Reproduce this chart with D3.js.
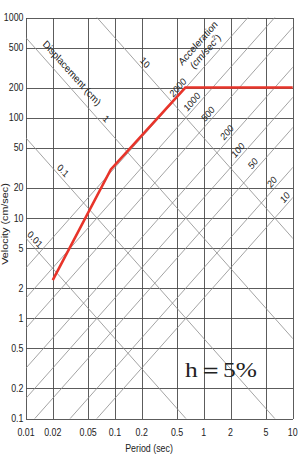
<!DOCTYPE html>
<html>
<head>
<meta charset="utf-8">
<script src="https://cdn.jsdelivr.net/npm/d3@7"></script>
<style>
html,body{margin:0;padding:0;background:#fff;}
svg{display:block;}
text{font-family:"Liberation Sans",Arial,sans-serif;fill:#222;}
</style>
</head>
<body>
<svg id="chart" width="300" height="454"></svg>
<script>
// ---- data ----
const periodTicks = [0.01, 0.02, 0.05, 0.1, 0.2, 0.5, 1, 2, 5, 10];
const velocityTicks = [0.1, 0.2, 0.5, 1, 2, 5, 10, 20, 50, 100, 200, 500, 1000];
const displacementLines = [0.01, 0.1, 1, 10];          // cm
const accelerationLines = [10, 20, 50, 100, 200, 500, 1000, 2000]; // cm/s^2
const spectrumPeriod = [0.02, 0.09, 0.62, 10];
const spectrumVelocity = [2.4, 30.5, 200, 200];
const dampingLabel = "h＝5%";

// ---- layout ----
const W = 300, H = 454;
const L = 26, R = 292.7, T = 17.5, B = 418.5;
const SX = 0.886; // horizontal squish of the original image
const svg = d3.select("#chart");
const x = d3.scaleLog().domain([0.01, 10]).range([L, R]);
const y = d3.scaleLog().domain([0.1, 1000]).range([B, T]);

svg.append("rect").attr("width", W).attr("height", H).attr("fill", "#fff");
svg.append("defs").append("clipPath").attr("id", "clip")
  .append("rect").attr("x", L).attr("y", T).attr("width", R - L).attr("height", B - T);

const tf = (px, py, rot) => `translate(${px},${py}) scale(${SX},1)` + (rot ? ` rotate(${rot})` : "");

// grid
const grid = svg.append("g").attr("stroke", "#4a4a4a").attr("stroke-width", 0.9).attr("shape-rendering", "crispEdges");
grid.selectAll(".vx").data(periodTicks).join("line")
  .attr("x1", d => Math.round(x(d)) + 0.5).attr("x2", d => Math.round(x(d)) + 0.5)
  .attr("y1", T).attr("y2", B);
grid.selectAll(".hy").data(velocityTicks).join("line")
  .attr("y1", d => Math.round(y(d)) + 0.5).attr("y2", d => Math.round(y(d)) + 0.5)
  .attr("x1", L).attr("x2", R);

// diagonal lines
const diag = svg.append("g").attr("clip-path", "url(#clip)").attr("stroke", "#8c8c8c").attr("stroke-width", 0.8).attr("fill", "none");
const tRange = [0.001, 100];
const lineGen = d3.line().x(d => x(d[0])).y(d => y(d[1]));
diag.selectAll(".disp").data(displacementLines).join("path")
  .attr("d", D => lineGen(tRange.map(t => [t, 2 * Math.PI * D / t])));
diag.selectAll(".acc").data(accelerationLines).join("path")
  .attr("d", A => lineGen(tRange.map(t => [t, A * t / (2 * Math.PI)])));

// diagonal labels
const dispLabelX = {0.01: 31, 0.1: 59, 1: 102, 10: 141};
displacementLines.forEach(D => {
  const px = dispLabelX[D];
  const t = x.invert(px);
  const py = y(2 * Math.PI * D / t);
  svg.append("text").attr("transform", tf(px, py, 45)).attr("y", -3)
    .attr("text-anchor", "middle").attr("font-size", 10).text(String(D));
});
const accLabelX = {2000: 182, 1000: 196, 500: 212, 200: 231, 100: 242, 50: 257, 20: 276, 10: 289};
accelerationLines.forEach(A => {
  const px = accLabelX[A];
  const t = x.invert(px);
  const py = y(A * t / (2 * Math.PI));
  svg.append("text").attr("transform", tf(px, py, -45)).attr("y", -3)
    .attr("text-anchor", "middle").attr("font-size", 10).text(String(A));
});

// family titles
svg.append("text").attr("transform", tf(72, 73, 45)).attr("dy", "0.35em")
  .attr("text-anchor", "middle").attr("font-size", 10.5).text("Displacement (cm)");
const acc = svg.append("g").attr("transform", tf(198, 43, -45));
acc.append("text").attr("y", 3.5).attr("text-anchor", "middle").attr("font-size", 10.5).text("Acceleration");
const acc2 = acc.append("text").attr("y", 15.5).attr("text-anchor", "middle").attr("font-size", 10.5);
acc2.append("tspan").text("(cm/sec");
acc2.append("tspan").attr("font-size", 7).attr("dy", -4).text("2");
acc2.append("tspan").attr("dy", 4).text(")");

// spectrum
svg.append("path")
  .attr("d", d3.line().x(d => x(d[0])).y(d => y(d[1]))(spectrumPeriod.map((t, i) => [t, spectrumVelocity[i]])))
  .attr("fill", "none").attr("stroke", "#e8342a").attr("stroke-width", 2.6).attr("stroke-linejoin", "miter");

// tick labels
svg.selectAll(".xl").data(periodTicks).join("text")
  .attr("transform", d => tf(x(d), 436)).attr("text-anchor", "middle").attr("font-size", 10)
  .text(d => String(d));
svg.selectAll(".yl").data(velocityTicks).join("text")
  .attr("transform", d => tf(23.5, y(d))).attr("dy", "0.35em").attr("text-anchor", "end").attr("font-size", 10)
  .text(d => String(d));

// axis titles
svg.append("text").attr("transform", tf(149, 451.5)).attr("text-anchor", "middle").attr("font-size", 10).text("Period (sec)");
svg.append("text").attr("transform", tf(4.5, 224, -90)).attr("dy", "0.35em").attr("text-anchor", "middle").attr("font-size", 10.8).text("Velocity (cm/sec)");

// damping label
svg.append("text").attr("x", 185).attr("y", 377)
  .attr("font-family", "'Liberation Serif','DejaVu Serif',serif").attr("font-size", 22)
  .attr("textLength", 72).attr("lengthAdjust", "spacingAndGlyphs")
  .style("font-family", "'Liberation Serif','DejaVu Serif',serif")
  .text(dampingLabel);
</script>
</body>
</html>
